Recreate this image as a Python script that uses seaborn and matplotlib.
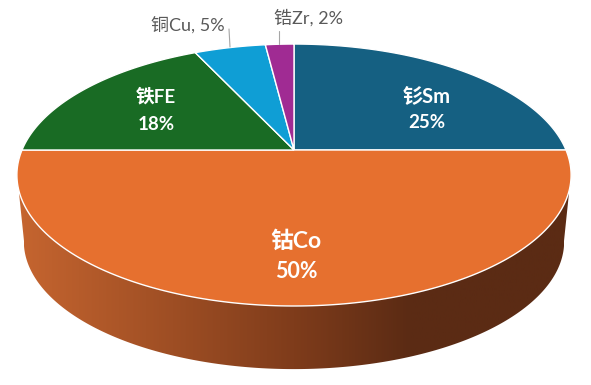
import numpy as np
import matplotlib.pyplot as plt
from matplotlib.colors import LinearSegmentedColormap
from matplotlib.patches import Polygon
import seaborn as sns

# === Data ===
metals = ["钐Sm", "钴Co", "铁FE", "铜Cu", "锆Zr"]
shares = [25, 50, 18, 5, 2]
colors = ["#156082", "#E6702F", "#196B24", "#0F9ED5", "#A02B93"]

# label placement in pixels (inside labels: name y, percent y)
inside_pos = {"钐Sm": (427, 97, 123), "钴Co": (296, 241, 272), "铁FE": (156, 97, 124)}
name_size = {"钐Sm": 14.5, "钴Co": 16.5, "铁FE": 13.5}
pct_size = {"钐Sm": 13.5, "钴Co": 15.5, "铁FE": 13.5}
outside_pos = {"铜Cu": (188, 26), "锆Zr": (309, 18)}
leaders = {"铜Cu": ((229, 29), (230, 47)), "锆Zr": ((279, 31), (279, 44))}

sns.set_theme(style="white")
plt.rcParams["font.family"] = ["Lato", "Noto Sans CJK SC", "DejaVu Sans"]

fig = plt.figure(figsize=(5.91, 3.85), dpi=100)
ax = fig.add_axes([0, 0, 1, 1])
ax.axis("off")

# perspective view of the pie disc: circle -> ellipse with apex off centre
APEX_X, APEX_Y = 294, 150
A, B, K = 272, 126.2, 0.191


def project(frac, scale=1.0, dy=0.0):
    # frac is the clockwise share of the circle, starting from the top
    u = np.sin(2 * np.pi * frac)
    v = np.cos(2 * np.pi * frac)
    d = 1 + K * v
    return APEX_X + scale * A * u / d, APEX_Y + dy - scale * B * v / d


# === Side wall with horizontal gradient ===
t = np.linspace(0.28, 0.72, 300)
bx, by = project(t, scale=0.975, dy=67)
wall_x = np.concatenate([[569], bx, [19]])
wall_y = np.concatenate([[193], by, [193]])
wall = Polygon(np.column_stack([wall_x, wall_y]), closed=True, fc="none", ec="none")
ax.add_patch(wall)
cmap = LinearSegmentedColormap.from_list(
    "wall", [(0, "#C4642F"), (0.5, "#7F3C1B"), (0.715, "#5B2B14"), (1, "#5B2B14")])
grad = ax.imshow(np.linspace(0, 1, 256)[None, :], extent=(24, 564, 385, 0),
                 cmap=cmap, aspect="auto", zorder=1)
grad.set_clip_path(wall)
# the gradient stops at the lower ellipse, the sloped ends of the wall keep its end colours
ax.fill([19, 24, 24], [193, 193, 241], color="#C4642F", linewidth=0, zorder=1)
ax.fill([569, 564, 564], [193, 193, 241], color="#5B2B14", linewidth=0, zorder=1)
ax.set_xlim(0, 591)
ax.set_ylim(385, 0)

# === Top of the pie ===
start = 0
for metal, share, color in zip(metals, shares, colors):
    f = np.linspace(start, start + share, 200) / sum(shares)
    x, y = project(f)
    ax.fill(np.r_[APEX_X, x], np.r_[APEX_Y, y], facecolor=color, edgecolor="white",
            linewidth=1.0, zorder=2)
    start += share

# === Labels ===
for metal, share in zip(metals, shares):
    if metal in inside_pos:
        lx, ly1, ly2 = inside_pos[metal]
        ax.text(lx, ly1, metal, color="white", fontsize=name_size[metal], fontweight="bold",
                ha="center", va="center", zorder=3)
        ax.text(lx, ly2, f"{share}%", color="white", fontsize=pct_size[metal], fontweight="bold",
                ha="center", va="center", zorder=3)
    else:
        lx, ly = outside_pos[metal]
        ax.text(lx, ly, f"{metal}, {share}%", color="#595959", fontsize=13,
                ha="center", va="center", zorder=3)
        (x0, y0), (x1, y1) = leaders[metal]
        ax.plot([x0, x1], [y0, y1], color="#A6A6A6", linewidth=0.8, zorder=3)

fig.savefig("out.png", dpi=100)
